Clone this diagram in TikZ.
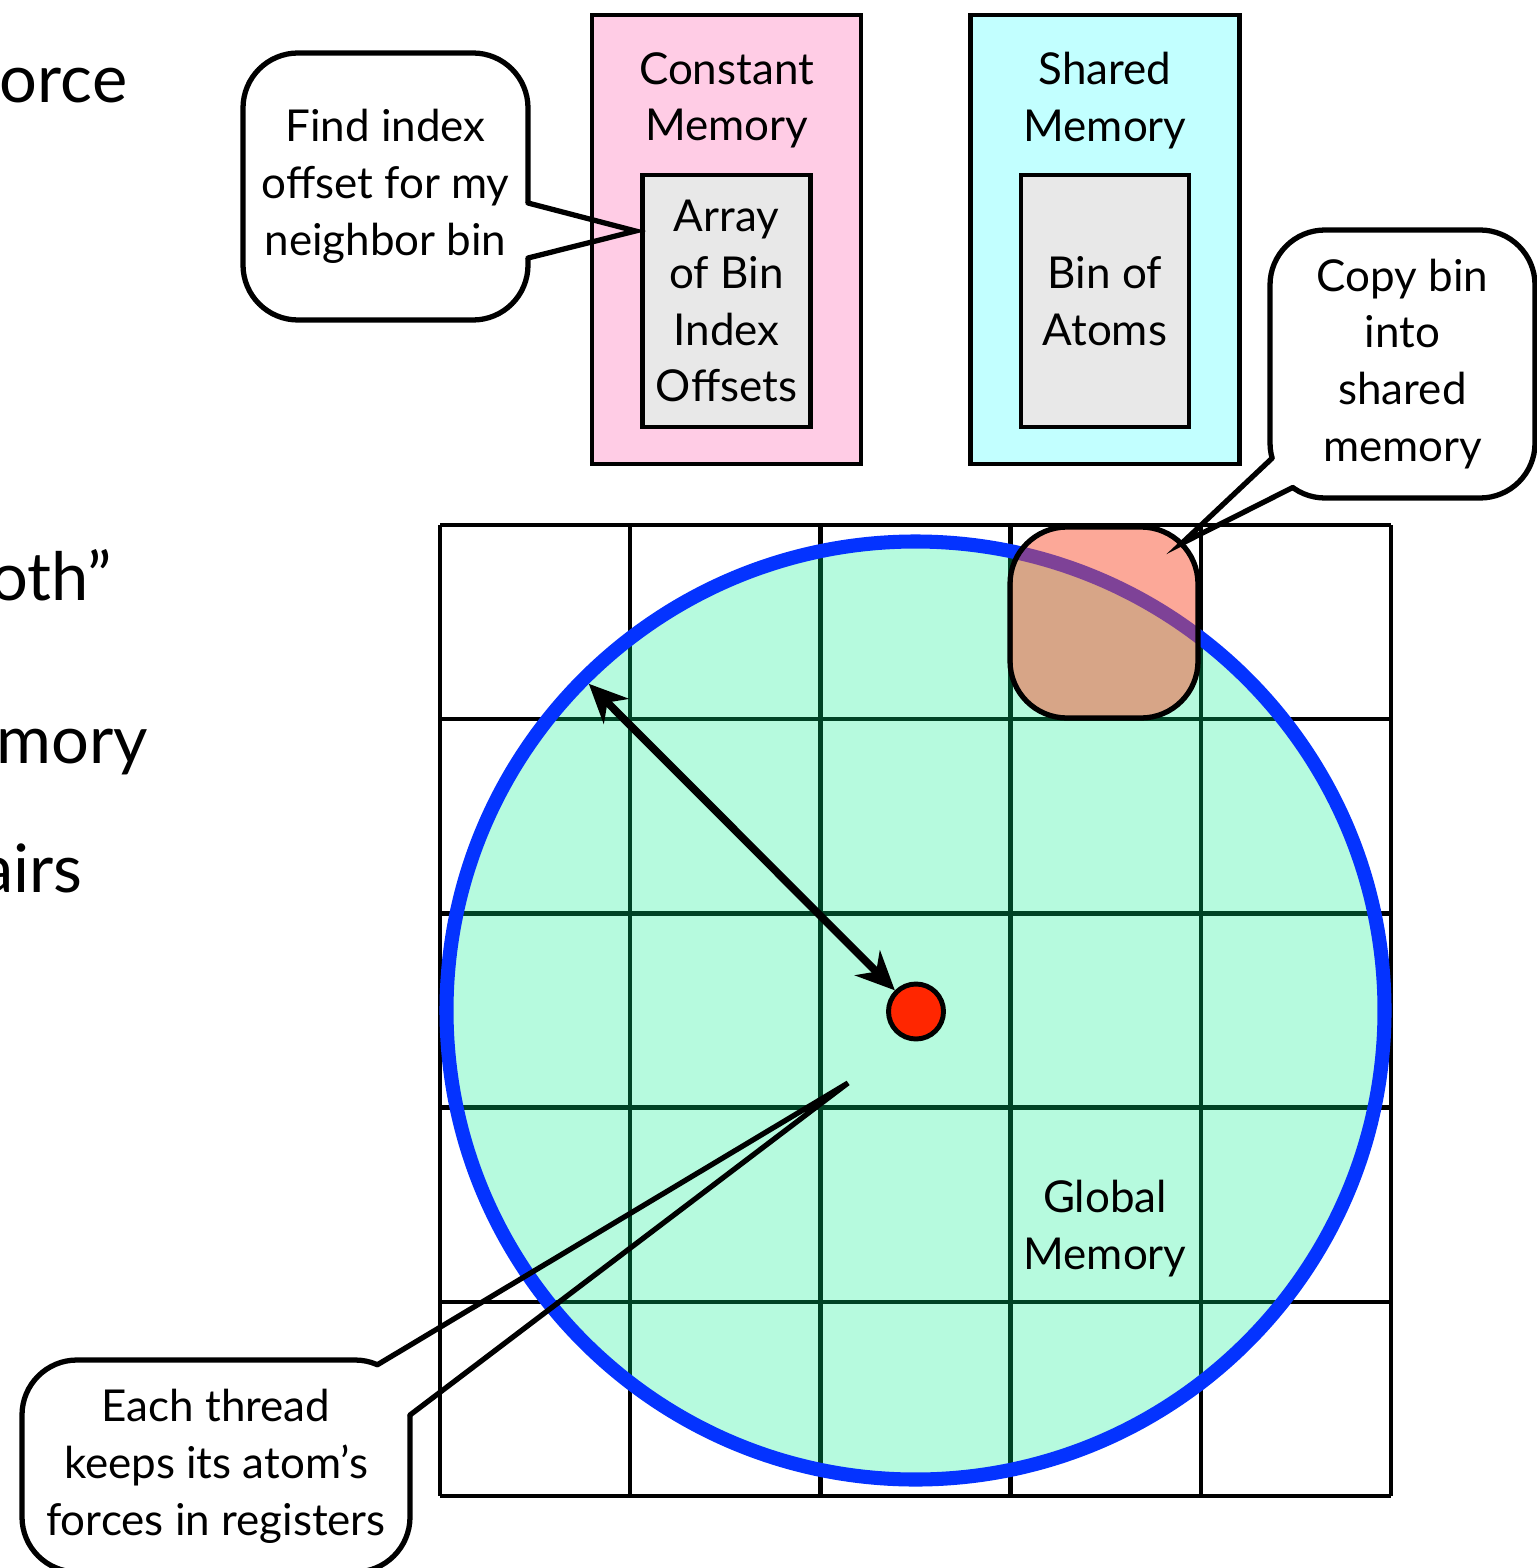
\documentclass[tikz,border=0pt]{standalone}
\usepackage{fontspec}
\setmainfont{Lato}
\usepackage{xcolor}
\usepackage{tikz}
\usetikzlibrary{arrows.meta,positioning,calc}
\definecolor{cm}{HTML}{FFCCE5}
\definecolor{sm}{HTML}{C2FFFF}
\definecolor{bx}{HTML}{E8E8E8}
\definecolor{gm}{HTML}{B6FADE}
\definecolor{gl}{HTML}{004225}
\definecolor{rc}{HTML}{0433FF}
\definecolor{at}{HTML}{FF2600}
\definecolor{hl}{HTML}{F95131}
\newcommand{\Lbl}{\fontsize{12.5pt}{16.2pt}\selectfont}
\newcommand{\Frag}{\fontsize{19pt}{23pt}\selectfont}
\tikzset{
  membox/.style={draw, line width=1.4pt, outer sep=0pt, minimum width=2.69cm, minimum height=4.49cm},
  inbox/.style={draw, line width=1.4pt, outer sep=0pt, fill=bx, minimum width=1.68cm, minimum height=2.52cm, align=center, font=\Lbl, inner sep=1pt},
  memtitle/.style={align=center, font=\Lbl, inner sep=1pt},
  callbox/.style={draw, line width=1.5pt, outer sep=0pt, fill=white, rounded corners=0.55cm, align=center, font=\Lbl, inner sep=1pt},
  callptr/.style={line width=1.5pt, line cap=round, line join=miter},
  gridline/.style={line width=1.3pt},
  frag/.style={anchor=base east, font=\Frag, inner sep=0pt}
}

\begin{document}
\begin{tikzpicture}
  \useasboundingbox (0,0) rectangle (15.37,-15.68);
  \clip (0,0) rectangle (15.37,-15.68);
  % slide text cut at the left edge
  \node[frag] (f1) at (1.28,-1.03) {orce};
  \node[frag] (f2) at (1.13,-6.00) {oth”};
  \node[frag] (f3) at (1.49,-7.63) {mory};
  \node[frag] (f4) at (0.83,-8.92) {airs};

  % bins and cutoff sphere
  \foreach \i in {0,...,5} {
    \draw[gridline] ({4.40+1.902*\i},-5.25) -- ({4.40+1.902*\i},-14.96);
    \draw[gridline] (4.40,{-5.25-1.942*\i}) -- (13.91,{-5.25-1.942*\i});
  }
  \coordinate (mid) at (9.155,-10.105);
  \fill[gm] (mid) circle (4.69);
  \begin{scope}
    \clip (mid) circle (4.69);
    \foreach \i in {1,...,4} {
      \draw[gridline, gl] ({4.40+1.902*\i},-5.25) -- ({4.40+1.902*\i},-14.96);
      \draw[gridline, gl] (4.40,{-5.25-1.942*\i}) -- (13.91,{-5.25-1.942*\i});
    }
  \end{scope}
  \draw[rc, line width=4pt] (mid) circle (4.69);
  \node[draw, line width=1.5pt, outer sep=0pt, fill=hl, fill opacity=0.5, rounded corners=0.57cm,
    minimum width=1.88cm, minimum height=1.91cm] (hot) at (11.04,-6.225) {};

  \node[circle, draw, line width=1.4pt, fill=at, minimum size=0.55cm, inner sep=0pt] (atom) at (9.16,-10.115) {};
  \coordinate (rim) at ($(mid)+(135:4.62)$);
  \draw[line width=2.2pt, {Stealth[length=11pt,width=10pt,inset=3.5pt]}-{Stealth[length=11pt,width=10pt,inset=3.5pt]}] (rim) -- (atom);
  \node[memtitle] (glob) at (11.05,-12.29) {Global\\Memory};

  % memory spaces
  \node[membox, fill=cm] (cmem) at (7.265,-2.395) {};
  \node[memtitle, below=0.33cm of cmem.north] (ctitle) {Constant\\Memory};
  \node[inbox, below=1.60cm of cmem.north] (arr) {Array\\of Bin\\Index\\Offsets};
  \node[membox, fill=sm] (smem) at (11.05,-2.395) {};
  \node[memtitle, below=0.33cm of smem.north] (stitle) {Shared\\Memory};
  \node[inbox, below=1.60cm of smem.north] (atoms) {Bin of\\Atoms};

  % callouts
  \node[callbox, minimum width=2.85cm, minimum height=2.67cm] (find) at (3.855,-1.865) {Find index\\offset for my\\neighbor bin};
  \coordinate (find-a) at ($(find.north east)+(0,-1.50)$);
  \coordinate (find-b) at ($(find.north east)+(0,-2.05)$);
  \coordinate (find-t) at ($(arr.west)+(-0.07,0.70)$);
  \fill[white] ($(find-a)+(-0.1,0)$) rectangle ($(find-b)+(0.05,0)$);
  \draw[callptr] (find-a) -- (find-t) -- (find-b);

  \node[callbox, minimum width=2.65cm, minimum height=2.68cm] (copy) at (14.025,-3.64) {Copy bin\\into\\shared\\memory};
  \coordinate (copy-c) at ($(copy.south west)+(0.55,0.55)$);
  \coordinate (copy-t) at ($(hot.north east)+(-0.57,-0.57)+(45:0.57)$);
  \fill[white] (copy-c) -- ($(copy-c)+(196:0.7)$) -- ($(copy-c)+(234:0.7)$) -- cycle;
  \draw[callptr] ($(copy-c)+(196:0.55)$) -- (copy-t) -- ($(copy-c)+(234:0.55)$);

  \node[callbox, minimum width=3.88cm, minimum height=2.12cm] (keep) at (2.16,-14.66) {Each thread\\keeps its atom’s\\forces in registers};
  \coordinate (keep-c) at ($(keep.north east)+(-0.55,-0.55)$);
  \coordinate (keep-t) at ($(atom)+(-0.68,-0.715)$);
  \fill[white] (keep-c) -- ($(keep-c)+(0:0.75)$) -- ($(keep-c)+(66:0.75)$) -- cycle;
  \draw[callptr] ($(keep-c)+(66:0.55)$) -- (keep-t) -- ($(keep-c)+(0:0.55)$);
\end{tikzpicture}
\end{document}
